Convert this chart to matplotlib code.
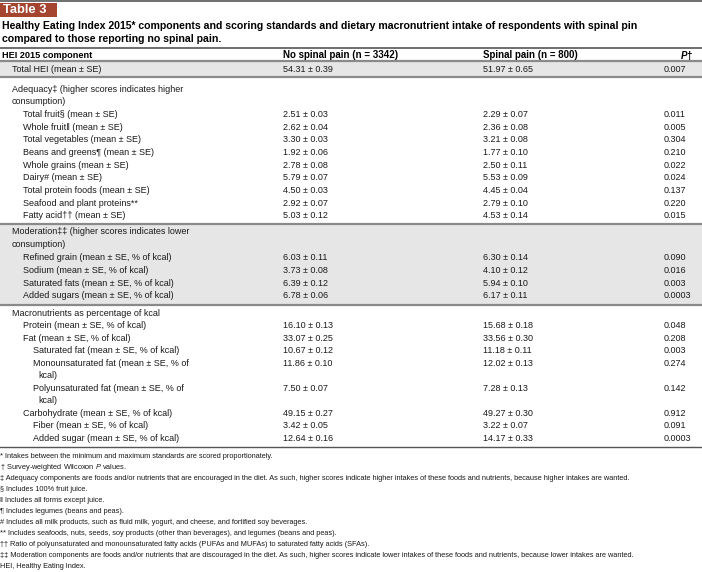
import matplotlib
matplotlib.use("Agg")
import matplotlib.pyplot as plt
from matplotlib.patches import Rectangle

plt.rcParams["font.family"] = ["Liberation Sans", "DejaVu Sans"]
plt.rcParams["mathtext.fontset"] = "custom"
plt.rcParams["mathtext.rm"] = "Liberation Sans"
plt.rcParams["mathtext.it"] = "Liberation Sans:italic"
plt.rcParams["mathtext.bf"] = "Liberation Sans:bold"
plt.rcParams["mathtext.bfit"] = "Liberation Sans:italic:bold"

table_label = "Table 3"
title_lines = [
    "Healthy Eating Index 2015* components and scoring standards and dietary macronutrient intake of respondents with spinal pin",
    "compared to those reporting no spinal pain.",
]
col_headers = ["HEI 2015 component", "No spinal pain (n = 3342)", "Spinal pain (n = 800)", "$\\bfit{P}$†"]

# (label, indent level, no pain, spinal pain, p)
rows_total = [("Total HEI (mean ± SE)", 1, "54.31 ± 0.39", "51.97 ± 0.65", "0.007")]
rows_adequacy = [
    ("Adequacy‡ (higher scores indicates higher", 1, "", "", ""),
    ("consumption)", 1, "", "", ""),
    ("Total fruit§ (mean ± SE)", 2, "2.51 ± 0.03", "2.29 ± 0.07", "0.011"),
    ("Whole fruit‖ (mean ± SE)", 2, "2.62 ± 0.04", "2.36 ± 0.08", "0.005"),
    ("Total vegetables (mean ± SE)", 2, "3.30 ± 0.03", "3.21 ± 0.08", "0.304"),
    ("Beans and greens¶ (mean ± SE)", 2, "1.92 ± 0.06", "1.77 ± 0.10", "0.210"),
    ("Whole grains (mean ± SE)", 2, "2.78 ± 0.08", "2.50 ± 0.11", "0.022"),
    ("Dairy# (mean ± SE)", 2, "5.79 ± 0.07", "5.53 ± 0.09", "0.024"),
    ("Total protein foods (mean ± SE)", 2, "4.50 ± 0.03", "4.45 ± 0.04", "0.137"),
    ("Seafood and plant proteins**", 2, "2.92 ± 0.07", "2.79 ± 0.10", "0.220"),
    ("Fatty acid†† (mean ± SE)", 2, "5.03 ± 0.12", "4.53 ± 0.14", "0.015"),
]
rows_moderation = [
    ("Moderation‡‡ (higher scores indicates lower", 1, "", "", ""),
    ("consumption)", 1, "", "", ""),
    ("Refined grain (mean ± SE, % of kcal)", 2, "6.03 ± 0.11", "6.30 ± 0.14", "0.090"),
    ("Sodium (mean ± SE, % of kcal)", 2, "3.73 ± 0.08", "4.10 ± 0.12", "0.016"),
    ("Saturated fats (mean ± SE, % of kcal)", 2, "6.39 ± 0.12", "5.94 ± 0.10", "0.003"),
    ("Added sugars (mean ± SE, % of kcal)", 2, "6.78 ± 0.06", "6.17 ± 0.11", "0.0003"),
]
rows_macro = [
    ("Macronutrients as percentage of kcal", 1, "", "", ""),
    ("Protein (mean ± SE, % of kcal)", 2, "16.10 ± 0.13", "15.68 ± 0.18", "0.048"),
    ("Fat (mean ± SE, % of kcal)", 2, "33.07 ± 0.25", "33.56 ± 0.30", "0.208"),
    ("Saturated fat (mean ± SE, % of kcal)", 3, "10.67 ± 0.12", "11.18 ± 0.11", "0.003"),
    ("Monounsaturated fat (mean ± SE, % of", 3, "11.86 ± 0.10", "12.02 ± 0.13", "0.274"),
    ("kcal)", 4, "", "", ""),
    ("Polyunsaturated fat (mean ± SE, % of", 3, "7.50 ± 0.07", "7.28 ± 0.13", "0.142"),
    ("kcal)", 4, "", "", ""),
    ("Carbohydrate (mean ± SE, % of kcal)", 2, "49.15 ± 0.27", "49.27 ± 0.30", "0.912"),
    ("Fiber (mean ± SE, % of kcal)", 3, "3.42 ± 0.05", "3.22 ± 0.07", "0.091"),
    ("Added sugar (mean ± SE, % of kcal)", 3, "12.64 ± 0.16", "14.17 ± 0.33", "0.0003"),
]
footnotes = [
    "* Intakes between the minimum and maximum standards are scored proportionately.",
    "† Survey-weighted Wilcoxon $\\it{P}$ values.",
    "‡ Adequacy components are foods and/or nutrients that are encouraged in the diet. As such, higher scores indicate higher intakes of these foods and nutrients, because higher intakes are wanted.",
    "§ Includes 100% fruit juice.",
    "‖ Includes all forms except juice.",
    "¶ Includes legumes (beans and peas).",
    "# Includes all milk products, such as fluid milk, yogurt, and cheese, and fortified soy beverages.",
    "** Includes seafoods, nuts, seeds, soy products (other than beverages), and legumes (beans and peas).",
    "†† Ratio of polyunsaturated and monounsaturated fatty acids (PUFAs and MUFAs) to saturated fatty acids (SFAs).",
    "‡‡ Moderation components are foods and/or nutrients that are discouraged in the diet. As such, higher scores indicate lower intakes of these foods and nutrients, because lower intakes are wanted.",
    "HEI, Healthy Eating Index.",
]

W, H = 702, 572
fig = plt.figure(figsize=(W / 100, H / 100), dpi=100)
ax = fig.add_axes([0, 0, 1, 1])
ax.set_xlim(0, W)
ax.set_ylim(H, 0)
ax.axis("off")

txt = "#1a1a1a"
shade = "#e6e6e6"
rule = "#8a8a8a"
body_fs = 6.5
indent_x = {1: 12, 2: 23, 3: 33, 4: 38}
col_x = [2, 283, 483, 664]
row_h = 12.7

# label box and top rule
ax.plot([0, W], [1, 1], color="#555555", lw=1.2)
ax.add_patch(Rectangle((0, 3), 57, 13.5, color="#a5452f", lw=0))
ax.text(3, 10.2, table_label, color="white", fontsize=9.3, fontweight="bold", va="center", ha="left")
for i, line in enumerate(title_lines):
    ax.text(2, 26 + 13 * i, line, color="black", fontsize=7.6, fontweight="bold", va="center", ha="left")
ax.plot([0, W], [47.5, 47.5], color="#555555", lw=1.2)

# column headers
for j, (x, h) in enumerate(zip(col_x, col_headers)):
    fs = 6.6 if j == 0 else 7.0
    xx = x + 16 if j == 3 else x
    ax.text(xx, 55, h, color="black", fontsize=fs, fontweight="bold", va="center", ha="left")

# shaded blocks and rules
ax.add_patch(Rectangle((0, 61), W, 16, color=shade, lw=0))
ax.add_patch(Rectangle((0, 224), W, 81, color=shade, lw=0))
for y in [61, 77, 224, 305]:
    ax.plot([0, W], [y, y], color=rule, lw=1.6)
ax.plot([0, W], [447, 447], color="#555555", lw=1.0)


def draw_rows(rows, y0, step):
    for i, (label, lvl, a, b, p) in enumerate(rows):
        y = y0 + i * step
        ax.text(indent_x[lvl], y, label, color=txt, fontsize=body_fs, va="center", ha="left")
        ax.text(col_x[1], y, a, color=txt, fontsize=body_fs, va="center", ha="left")
        ax.text(col_x[2], y, b, color=txt, fontsize=body_fs, va="center", ha="left")
        ax.text(col_x[3], y, p, color=txt, fontsize=body_fs, va="center", ha="left")


draw_rows(rows_total, 69, row_h)
draw_rows(rows_adequacy, 89, row_h)
draw_rows(rows_moderation, 232, 12.8)
draw_rows(rows_macro, 313, 12.55)

for i, note in enumerate(footnotes):
    ax.text(0, 457 + 10.9 * i, note, color=txt, fontsize=5.3, va="center", ha="left")

fig.savefig("out.png", dpi=100)
